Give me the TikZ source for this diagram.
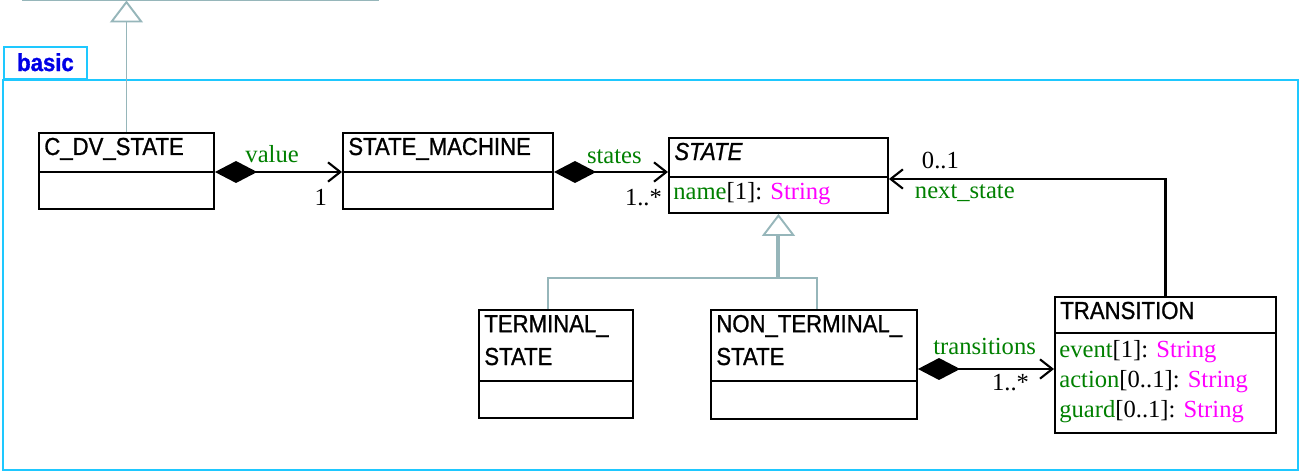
\documentclass[tikz,border=0pt]{standalone}
\usepackage{fontspec}
\setmainfont{Liberation Serif}
\setsansfont{Liberation Sans}
\newfontfamily\classfont{Liberation Sans}[FakeStretch=0.9, FakeBold=1]
\usetikzlibrary{arrows.meta}
\definecolor{cPkg}{RGB}{30, 200, 255}
\definecolor{cPkgText}{RGB}{0, 0, 230}
\definecolor{cGen}{RGB}{150, 182, 186}
\definecolor{cRole}{RGB}{0, 128, 0}
\definecolor{cType}{RGB}{255, 0, 255}

\begin{document}
\begin{tikzpicture}[
    classbox/.style={draw, line width=1.1pt, anchor=north west, inner sep=0pt},
    divider/.style={line width=0.6pt},
    cname/.style={anchor=base west, inner sep=0pt, align=left,
        font=\classfont\fontsize{14}{18.7}\selectfont},
    attr/.style={anchor=base west, inner sep=0pt, align=left,
        font=\fontsize{14}{17}\selectfont},
    role/.style={inner sep=0pt, text=cRole, font=\fontsize{14}{17}\selectfont},
    mult/.style={inner sep=0pt, font=\fontsize{14}{17}\selectfont},
    assoc/.style={line width=1.2pt,
        {Diamond[length=24pt, width=12.5pt]}-{Straight Barb[length=7pt, width=11pt]}},
    nav/.style={line width=1.2pt, -{Straight Barb[length=7pt, width=11pt]}},
    genline/.style={cGen, line width=1.1pt},
    genhead/.style={-{Triangle[open, length=0.44cm, width=0.66cm, line width=1.1pt]}}
]
    \useasboundingbox (0,0) rectangle (26,9.46);

    % ================= package basic =================
    \node[draw=cPkg, line width=1.1pt, anchor=south west, minimum width=1.66cm,
        inner xsep=0pt, inner ysep=0pt, text height=0.48cm, text depth=0.16cm,
        text=cPkgText, font=\classfont\bfseries\fontsize{14}{16}\selectfont]
        (pkg-tab) at (0.06,7.86) {basic};
    \draw[cPkg, line width=1.1pt] (pkg-tab.south west) rectangle (25.96,0.06);

    % ================= supertype (cut off at the top) =================
    \coordinate (super-l) at (0.44,9.45);
    \coordinate (super-r) at (7.58,9.45);
    \draw[genline, line width=0.8pt] (super-l) -- (super-r);

    % ================= C_DV_STATE =================
    \node[classbox, minimum width=3.50cm, minimum height=1.52cm] (cdv) at (0.76,6.82) {};
    \coordinate (cdv-d) at ([yshift=-0.80cm]cdv.north west);
    \draw[divider] (cdv-d) -- (cdv-d -| cdv.east);
    \node[cname] (cdv-n) at ([shift={(0.12,-0.46)}]cdv.north west) {C\_DV\_STATE};

    % ================= STATE_MACHINE =================
    \node[classbox, minimum width=4.20cm, minimum height=1.52cm] (sm) at (6.84,6.82) {};
    \coordinate (sm-d) at ([yshift=-0.80cm]sm.north west);
    \draw[divider] (sm-d) -- (sm-d -| sm.east);
    \node[cname] (sm-n) at ([shift={(0.12,-0.46)}]sm.north west) {STATE\_MACHINE};

    % ================= STATE =================
    \node[classbox, minimum width=4.38cm, minimum height=1.50cm] (state) at (13.36,6.72) {};
    \coordinate (state-d) at ([yshift=-0.80cm]state.north west);
    \draw[divider] (state-d) -- (state-d -| state.east);
    \node[cname] (state-n) at ([shift={(0.12,-0.46)}]state.north west) {\itshape STATE};
    \node[attr] (state-a) at ([shift={(0.10,-0.44)}]state-d)
        {\textcolor{cRole}{name}[1]: \textcolor{cType}{String}};

    % ================= TERMINAL_STATE (base = last line) =================
    \node[classbox, minimum width=3.08cm, minimum height=2.16cm] (term) at (9.56,3.28) {};
    \coordinate (term-d) at ([yshift=-1.44cm]term.north west);
    \draw[divider] (term-d) -- (term-d -| term.east);
    \node[cname] (term-n) at ([shift={(0.12,-1.12)}]term.north west) {TERMINAL\_\\STATE};

    % ================= NON_TERMINAL_STATE =================
    \node[classbox, minimum width=4.12cm, minimum height=2.18cm] (nts) at (14.20,3.28) {};
    \coordinate (nts-d) at ([yshift=-1.44cm]nts.north west);
    \draw[divider] (nts-d) -- (nts-d -| nts.east);
    \node[cname] (nts-n) at ([shift={(0.12,-1.12)}]nts.north west) {NON\_TERMINAL\_\\STATE};

    % ================= TRANSITION =================
    \node[classbox, minimum width=4.42cm, minimum height=2.72cm] (trans) at (21.08,3.54) {};
    \coordinate (trans-d) at ([yshift=-0.74cm]trans.north west);
    \draw[divider] (trans-d) -- (trans-d -| trans.east);
    \node[cname] (trans-n) at ([shift={(0.12,-0.46)}]trans.north west) {TRANSITION};
    \node[attr] (trans-a) at ([shift={(0.10,-1.68)}]trans-d)
        {\textcolor{cRole}{event}[1]: \textcolor{cType}{String}\\
         \textcolor{cRole}{action}[0..1]: \textcolor{cType}{String}\\
         \textcolor{cRole}{guard}[0..1]: \textcolor{cType}{String}};

    % ================= associations =================
    \draw[assoc] (cdv-d -| cdv.east) -- (cdv-d -| sm.west)
        node[role, pos=0.45, anchor=base, yshift=0.20cm] (value-r) {value}
        node[mult, pos=1, anchor=base east, xshift=-0.28cm, yshift=-0.66cm] (value-m) {1};

    \draw[assoc] (sm-d -| sm.east) -- (sm-d -| state.west)
        node[role, pos=0.53, anchor=base, yshift=0.18cm] (states-r) {states}
        node[mult, pos=1, anchor=base east, xshift=-0.10cm, yshift=-0.66cm] (states-m) {1..*};

    \coordinate (ns-in) at ([yshift=-0.84cm]state.north east);
    \draw[nav] (trans.north) |- (ns-in)
        node[mult, pos=1, anchor=base west, xshift=0.64cm, yshift=0.20cm] (ns-m) {0..1}
        node[role, pos=1, anchor=base west, xshift=0.50cm, yshift=-0.38cm] (ns-r) {next\_state};

    \coordinate (tr-out) at ([yshift=-1.20cm]nts.north east);
    \draw[assoc] (tr-out) -- (tr-out -| trans.west)
        node[role, pos=0.49, anchor=base, yshift=0.30cm] (tr-r) {transitions}
        node[mult, pos=1, anchor=base east, xshift=-0.48cm, yshift=-0.42cm] (tr-m) {1..*};

    % ================= generalizations =================
    \draw[genline, line width=0.85pt, genhead] (cdv.north) -- (cdv.north |- super-l);

    \coordinate (gen-j) at ([yshift=-1.28cm]state.south);
    \draw[genline] ([xshift=-0.16cm]term.north) |- (gen-j) -| ([xshift=0.06cm]nts.north);
    \draw[genline, line width=2.3pt, genhead] (gen-j) -- (state.south);

\end{tikzpicture}
\end{document}
